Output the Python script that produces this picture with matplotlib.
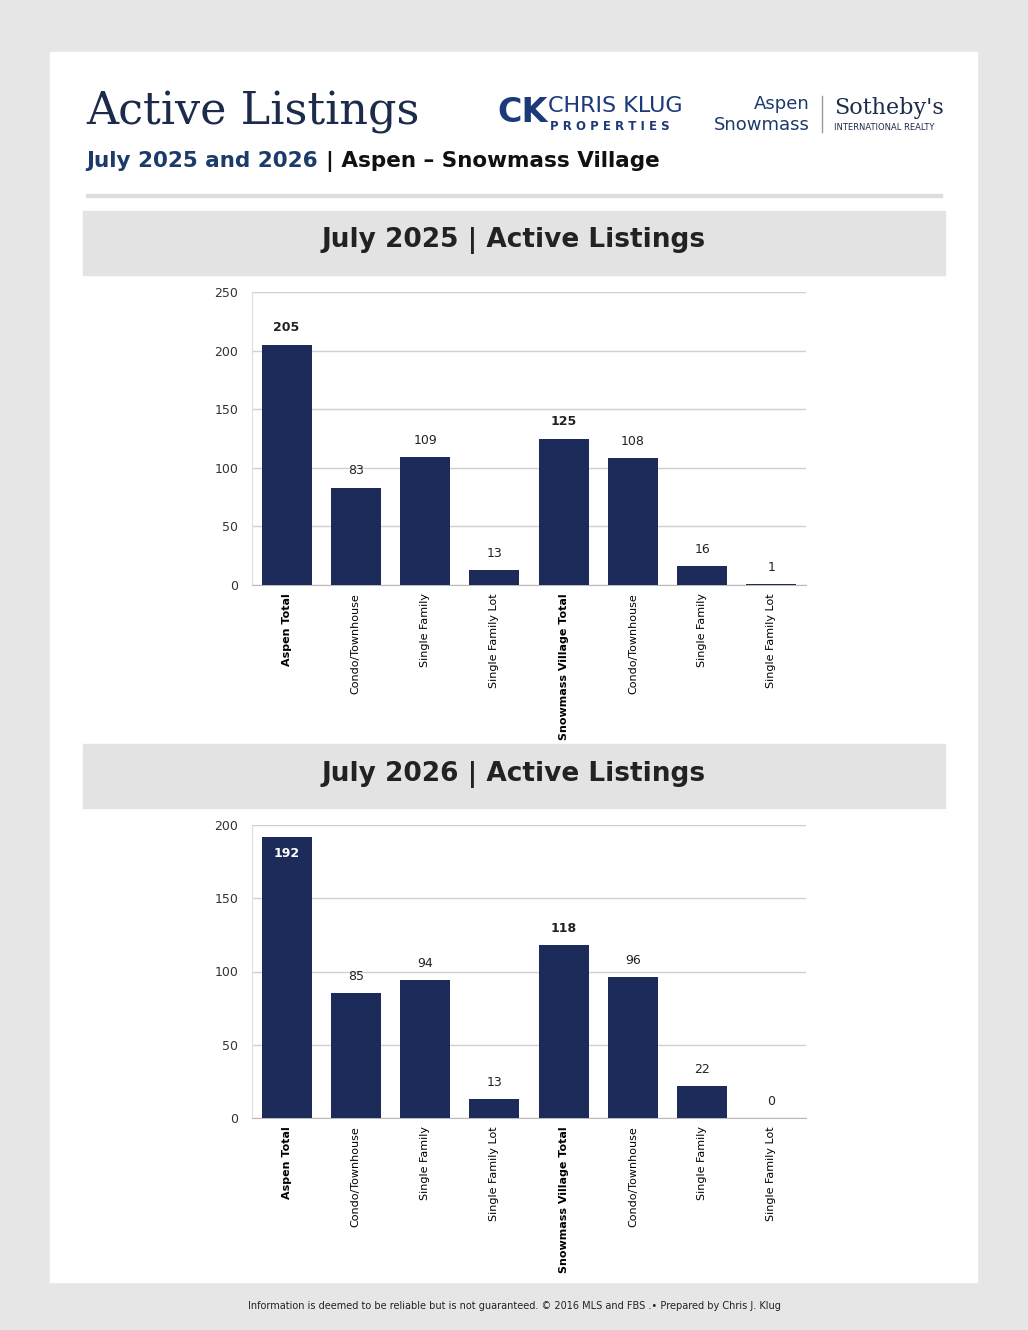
import matplotlib.pyplot as plt
from matplotlib.patches import Rectangle

categories = ["Aspen Total", "Condo/Townhouse", "Single Family", "Single Family Lot",
              "Snowmass Village Total", "Condo/Townhouse", "Single Family", "Single Family Lot"]
values_2025 = [205, 83, 109, 13, 125, 108, 16, 1]
values_2026 = [192, 85, 94, 13, 118, 96, 22, 0]
bold_idx = [0, 4]

W, H = 1028, 1330
navy = "#1c2b5a"
fig = plt.figure(figsize=(W / 100, H / 100), dpi=100, facecolor="#e6e6e6")


def fx(x):
    return x / W


def fy(y):
    return 1 - y / H


def box(x0, y0, x1, y1, color):
    fig.patches.append(Rectangle((fx(x0), fy(y1)), fx(x1 - x0), (y1 - y0) / H,
                                 transform=fig.transFigure, color=color, zorder=-10))


box(50, 52, 977, 1282, "white")
box(86, 194, 942, 197, "#dddddd")
fig.text(fx(86), fy(112), "Active Listings", fontsize=32, family="DejaVu Serif",
         color="#1c2b4a", va="center")
fig.text(fx(86), fy(161), "July 2025 and 2026", fontsize=15.5, weight="bold", color="#1c3a6a", va="center")
fig.text(fx(326), fy(161), "| Aspen \u2013 Snowmass Village", fontsize=15.5, weight="bold", color="#111", va="center")
fig.text(fx(497), fy(113), "CK", fontsize=24, weight="bold", color="#1c3a7a", va="center")
fig.text(fx(548), fy(106), "CHRIS KLUG", fontsize=16, color="#1c3a7a", va="center")
fig.text(fx(550), fy(127), "P R O P E R T I E S", fontsize=8.5, weight="bold", color="#1c3a7a", va="center")
fig.text(fx(810), fy(104), "Aspen", fontsize=13, color="#1c3a6a", va="center", ha="right")
fig.text(fx(810), fy(125), "Snowmass", fontsize=13, color="#1c3a6a", va="center", ha="right")
fig.text(fx(834), fy(108), "Sotheby's", fontsize=16, family="DejaVu Serif", color="#1c2b4a", va="center")
fig.text(fx(834), fy(128), "INTERNATIONAL REALTY", fontsize=6, color="#1c2b4a", va="center")
fig.lines.append(plt.Line2D([fx(822), fx(822)], [fy(96), fy(132)], transform=fig.transFigure, color="#999", lw=1))

fig.text(fx(514), fy(1306), "Information is deemed to be reliable but is not guaranteed. \u00a9 2016 MLS and FBS .\u2022 Prepared by Chris J. Klug",
         fontsize=7, ha="center", va="center", color="#222")


def panel(title, banner_y, values, ax_top, ymax, step, inside_first):
    box(83, banner_y, 945, banner_y + 64, "#e3e3e3")
    fig.text(fx(514), fy(banner_y + 30), title, fontsize=19, weight="bold", ha="center", va="center", color="#222")
    ax = fig.add_axes([fx(252), fy(ax_top + 293), fx(806 - 252), 293 / H])
    ax.set_zorder(5)
    ax.patch.set_alpha(0)
    x = range(len(values))
    ax.bar(x, values, width=0.72, color=navy, zorder=3)
    ax.set_xlim(-0.5, len(values) - 0.5)
    ax.set_ylim(0, ymax)
    ax.set_yticks(range(0, ymax + 1, step))
    ax.yaxis.grid(True, color="#d0d0d0", lw=1)
    for s in ["top", "right"]:
        ax.spines[s].set_visible(False)
    ax.spines["bottom"].set_color("#bbb")
    ax.spines["left"].set_color("#ddd")
    ax.tick_params(axis="y", length=0, labelsize=9, colors="#333", pad=10)
    ax.tick_params(axis="x", length=0, pad=6)
    ax.set_xticks(list(x))
    ax.set_xticklabels(categories, rotation=90, fontsize=8, va="top")
    for i, lbl in enumerate(ax.get_xticklabels()):
        if i in bold_idx:
            lbl.set_fontweight("bold")
    for i, v in enumerate(values):
        bold = i in bold_idx
        if i == 0 and inside_first:
            ax.text(i, v - ymax * 0.035, str(v), ha="center", va="top", color="white", fontsize=9, weight="bold")
        else:
            ax.text(i, v + ymax * 0.035, str(v), ha="center", va="bottom", fontsize=9,
                    weight="bold" if bold else "normal", color="#222")
    return ax


panel("July 2025 | Active Listings", 211, values_2025, 292, 250, 50, False)
panel("July 2026 | Active Listings", 744, values_2026, 825, 200, 50, True)

fig.savefig("out.png", dpi=100, facecolor=fig.get_facecolor())
